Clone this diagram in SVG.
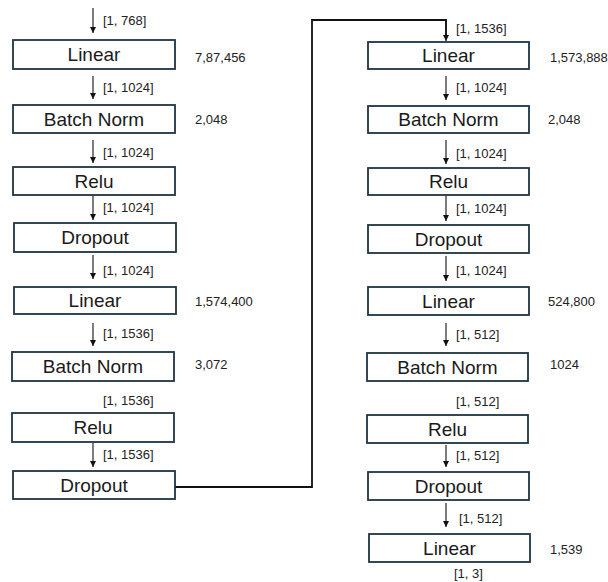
<svg xmlns="http://www.w3.org/2000/svg" width="608" height="582" viewBox="0 0 608 582">
<defs>
<marker id="ah" markerUnits="userSpaceOnUse" markerWidth="8" markerHeight="8" refX="6" refY="3" orient="auto">
<path d="M0,0 L6,3 L0,6 Z" fill="#111"/>
</marker>
<style>
.box{fill:#fff;stroke:#1f3444;stroke-width:1.8}
.nt{font-family:"Liberation Sans",Arial,sans-serif;font-size:19px;fill:#1a1a1a;text-anchor:middle}
.lb{font-family:"Liberation Sans",Arial,sans-serif;font-size:13px;fill:#222}
.ar{stroke:#111;stroke-width:1.1;fill:none;marker-end:url(#ah)}
.el{stroke:#111;stroke-width:1.8;fill:none}
</style>
</defs>
<rect width="608" height="582" fill="#fff"/>
<g id="connectors">
<path class="ar" d="M93,8 V33"/>
<path class="ar" d="M93,76 V99"/>
<path class="ar" d="M93,140 V163"/>
<path class="ar" d="M93,196 V220"/>
<path class="ar" d="M93,255 V279"/>
<path class="ar" d="M93,323 V346"/>
<path class="ar" d="M93,443 V467"/>
<path class="el" d="M175,487 H312 V20 H446 V35"/>
<path class="ar" d="M446,20 V41"/>
<path class="ar" d="M446,76 V100"/>
<path class="ar" d="M446,140 V164"/>
<path class="ar" d="M446,196 V221"/>
<path class="ar" d="M446,256 V281"/>
<path class="ar" d="M446,323 V346"/>
<path class="ar" d="M446,445 V467"/>
<path class="ar" d="M446,503 V527"/>
</g>
<g id="labels" class="lb">
<text x="103" y="25">[1, 768]</text>
<text x="103" y="92">[1, 1024]</text>
<text x="103" y="157">[1, 1024]</text>
<text x="103" y="212">[1, 1024]</text>
<text x="103" y="275">[1, 1024]</text>
<text x="103" y="338">[1, 1536]</text>
<text x="103" y="405">[1, 1536]</text>
<text x="103" y="459">[1, 1536]</text>
<text x="195" y="62">7,87,456</text>
<text x="195" y="124">2,048</text>
<text x="195" y="306">1,574,400</text>
<text x="195" y="369">3,072</text>
<text x="456" y="33">[1, 1536]</text>
<text x="456" y="92">[1, 1024]</text>
<text x="456" y="158">[1, 1024]</text>
<text x="456" y="213">[1, 1024]</text>
<text x="456" y="275">[1, 1024]</text>
<text x="456" y="339">[1, 512]</text>
<text x="456" y="406">[1, 512]</text>
<text x="456" y="460">[1, 512]</text>
<text x="459" y="523">[1, 512]</text>
<text x="454" y="578">[1, 3]</text>
<text x="550" y="62">1,573,888</text>
<text x="548" y="124">2,048</text>
<text x="548" y="306">524,800</text>
<text x="550" y="369">1024</text>
<text x="550" y="554">1,539</text>
</g>
<g id="L1"><rect class="box" x="13" y="40" width="162" height="29"/><text class="nt" x="94" y="61">Linear</text></g>
<g id="L2"><rect class="box" x="13" y="105" width="162" height="28"/><text class="nt" x="94" y="125.5">Batch Norm</text></g>
<g id="L3"><rect class="box" x="13" y="167" width="162" height="28"/><text class="nt" x="94" y="187.5">Relu</text></g>
<g id="L4"><rect class="box" x="14" y="223" width="162" height="29"/><text class="nt" x="95" y="244">Dropout</text></g>
<g id="L5"><rect class="box" x="14" y="287" width="162" height="27"/><text class="nt" x="95" y="307">Linear</text></g>
<g id="L6"><rect class="box" x="12" y="352" width="162" height="29"/><text class="nt" x="93" y="373">Batch Norm</text></g>
<g id="L7"><rect class="box" x="12" y="413" width="162" height="29"/><text class="nt" x="93" y="434">Relu</text></g>
<g id="L8"><rect class="box" x="13" y="471" width="162" height="28"/><text class="nt" x="94" y="491.5">Dropout</text></g>
<g id="R1"><rect class="box" x="368" y="42" width="161" height="27"/><text class="nt" x="448.5" y="62">Linear</text></g>
<g id="R2"><rect class="box" x="368" y="106" width="161" height="27"/><text class="nt" x="448.5" y="126">Batch Norm</text></g>
<g id="R3"><rect class="box" x="368" y="168" width="161" height="27"/><text class="nt" x="448.5" y="188">Relu</text></g>
<g id="R4"><rect class="box" x="368" y="225" width="161" height="28"/><text class="nt" x="448.5" y="245.5">Dropout</text></g>
<g id="R5"><rect class="box" x="368" y="287" width="161" height="28"/><text class="nt" x="448.5" y="307.5">Linear</text></g>
<g id="R6"><rect class="box" x="367" y="353" width="161" height="28"/><text class="nt" x="447.5" y="373.5">Batch Norm</text></g>
<g id="R7"><rect class="box" x="367" y="415" width="161" height="28"/><text class="nt" x="447.5" y="435.5">Relu</text></g>
<g id="R8"><rect class="box" x="368" y="472" width="161" height="28"/><text class="nt" x="448.5" y="492.5">Dropout</text></g>
<g id="R9"><rect class="box" x="369" y="534" width="161" height="28"/><text class="nt" x="449.5" y="554.5">Linear</text></g>
</svg>
